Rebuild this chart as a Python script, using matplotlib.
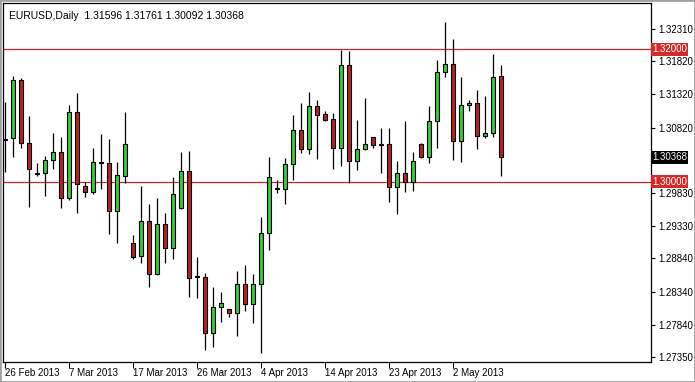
import matplotlib
matplotlib.use("Agg")
import matplotlib.pyplot as plt
import numpy as np

# daily EURUSD candles, 26 Feb 2013 .. 6 May 2013 (MT4 chart incl. Sunday bars)
opens = [1.30647, 1.30662, 1.31539, 1.30586, 1.30133, 1.30133, 1.30329, 1.30450, 1.29755, 1.31055,
         1.29936, 1.29845, 1.30299, 1.30284, 1.29558, 1.30087, 1.29074, 1.28878, 1.29407, 1.28606,
         1.29362, 1.28999, 1.29604, 1.30163, 1.28575, 1.28560, 1.27714, 1.28107, 1.28076, 1.28016,
         1.28454, 1.28152, 1.28454, 1.29226, 1.29906, 1.29891, 1.30269, 1.30783, 1.30496, 1.31146,
         1.31025, 1.30949, 1.30511, 1.31766, 1.30314, 1.30496, 1.30677, 1.30571, 1.30571, 1.29921,
         1.30133, 1.29997, 1.30571, 1.30375, 1.30919, 1.31660, 1.31781, 1.30617, 1.31161, 1.31191,
         1.30692, 1.30738, 1.31596]
highs = [1.31206, 1.31599, 1.31569, 1.30995, 1.30284, 1.30390, 1.30738, 1.30677, 1.31161, 1.31342,
         1.29997, 1.30511, 1.30722, 1.30647, 1.30299, 1.31055, 1.29195, 1.29936, 1.29664, 1.29755,
         1.29528, 1.30072, 1.30450, 1.30465, 1.28863, 1.28621, 1.28409, 1.28333, 1.28076, 1.28651,
         1.28742, 1.28606, 1.29467, 1.30375, 1.30027, 1.30360, 1.31010, 1.31191, 1.31357, 1.31236,
         1.31070, 1.31040, 1.31992, 1.31977, 1.30934, 1.31267, 1.30677, 1.30813, 1.30813, 1.30314,
         1.30919, 1.30450, 1.30586, 1.31146, 1.31841, 1.32416, 1.32159, 1.31584, 1.31236, 1.31388,
         1.31297, 1.31932, 1.31761]
lows = [1.30148, 1.30375, 1.30511, 1.29619, 1.30087, 1.29785, 1.30193, 1.29604, 1.29724, 1.29528,
        1.29770, 1.29815, 1.29891, 1.29210, 1.29074, 1.29982, 1.28832, 1.28772, 1.28409, 1.28591,
        1.28772, 1.28832, 1.29588, 1.28258, 1.28243, 1.27456, 1.27502, 1.27880, 1.27955, 1.27668,
        1.28046, 1.27865, 1.27411, 1.28968, 1.29830, 1.29664, 1.30027, 1.30435, 1.30420, 1.30344,
        1.30919, 1.30193, 1.30239, 1.29982, 1.30178, 1.30480, 1.30511, 1.30133, 1.29694, 1.29513,
        1.29845, 1.29861, 1.30360, 1.30284, 1.30511, 1.31584, 1.30329, 1.30299, 1.31070, 1.30496,
        1.30662, 1.30677, 1.30092]
closes = [1.30632, 1.31539, 1.30586, 1.30193, 1.30118, 1.30329, 1.30450, 1.29755, 1.31055, 1.29966,
          1.29845, 1.30299, 1.30284, 1.29558, 1.30102, 1.30571, 1.28863, 1.29407, 1.28606, 1.29362,
          1.28999, 1.29815, 1.30163, 1.28545, 1.28560, 1.27714, 1.28107, 1.28167, 1.28016, 1.28454,
          1.28152, 1.28454, 1.29226, 1.30072, 1.29891, 1.30269, 1.30783, 1.30496, 1.31146, 1.31010,
          1.30934, 1.30511, 1.31766, 1.30314, 1.30496, 1.30571, 1.30556, 1.30556, 1.29921, 1.30133,
          1.29997, 1.30314, 1.30375, 1.30919, 1.31660, 1.31781, 1.30617, 1.31161, 1.31191, 1.30692,
          1.30738, 1.31584, 1.30368]

date_pos = [0, 8, 16, 24, 32, 40, 48, 56]
date_labels = ["26 Feb 2013", "7 Mar 2013", "17 Mar 2013", "26 Mar 2013",
               "4 Apr 2013", "14 Apr 2013", "23 Apr 2013", "2 May 2013"]
price_ticks = [1.32310, 1.31820, 1.31320, 1.30820, 1.29830, 1.29330,
               1.28840, 1.28340, 1.27840, 1.27350]
levels = [1.32000, 1.30000]
last_price = 1.30368
title = "EURUSD,Daily  1.31596 1.31761 1.30092 1.30368"

BULL = "#38cc38"
BEAR = "#b42222"
LEVEL = "#c8282d"

plt.rcParams["font.family"] = ["Liberation Sans", "DejaVu Sans"]

fig = plt.figure(figsize=(6.95, 3.82), dpi=100)
fig.patch.set_facecolor("white")
ax = fig.add_axes([3 / 695, 20 / 382, 648 / 695, 359 / 382])

o = np.array(opens)
c = np.array(closes)
h = np.array(highs)
l = np.array(lows)
x = np.arange(len(o))
colors = np.where(c >= o, BULL, BEAR)

ax.vlines(x, l, h, color="black", linewidth=0.9, zorder=2)
ax.bar(x, np.maximum(np.abs(c - o), 0.00002), bottom=np.minimum(o, c), width=0.62,
       color=colors, edgecolor="black", linewidth=0.8, zorder=3)

for lv in levels:
    ax.axhline(lv, color=LEVEL, linewidth=0.9, zorder=1)

ax.set_xlim(-0.25, 80.75)
ax.set_ylim(1.27274, 1.32703)

ax.yaxis.tick_right()
ax.set_yticks(price_ticks)
ax.set_yticklabels([f"{p:.5f}" for p in price_ticks])
ax.tick_params(axis="y", direction="out", length=3, width=0.8, pad=2, labelsize=7)

ax.set_xticks(date_pos)
ax.set_xticklabels(date_labels)
ax.tick_params(axis="x", direction="out", length=4, width=0.8, pad=0, labelsize=7)
for lbl in ax.get_xticklabels():
    lbl.set_ha("left")

for sp in ax.spines.values():
    sp.set_linewidth(0.9)
    sp.set_color("black")

# price labels on the right scale
tr = ax.get_yaxis_transform()
for lv in levels:
    ax.text(1.0015, lv, f"{lv:.5f}", transform=tr, ha="left", va="center", fontsize=7,
            color="white", clip_on=False,
            bbox=dict(boxstyle="square,pad=0.15", fc="#d42a2a", ec="none"))
ax.text(1.0015, last_price, f"{last_price:.5f}", transform=tr, ha="left", va="center",
        fontsize=7, color="white", clip_on=False,
        bbox=dict(boxstyle="square,pad=0.15", fc="black", ec="none"))

ax.text(0.009, 0.978, title, transform=ax.transAxes, ha="left", va="top", fontsize=7.5)

# window border
fig.add_artist(plt.Rectangle((0, 0), 1, 1, transform=fig.transFigure, fill=False,
                             ec="#a0a0a0", lw=2))

fig.savefig("out.png", dpi=100)
